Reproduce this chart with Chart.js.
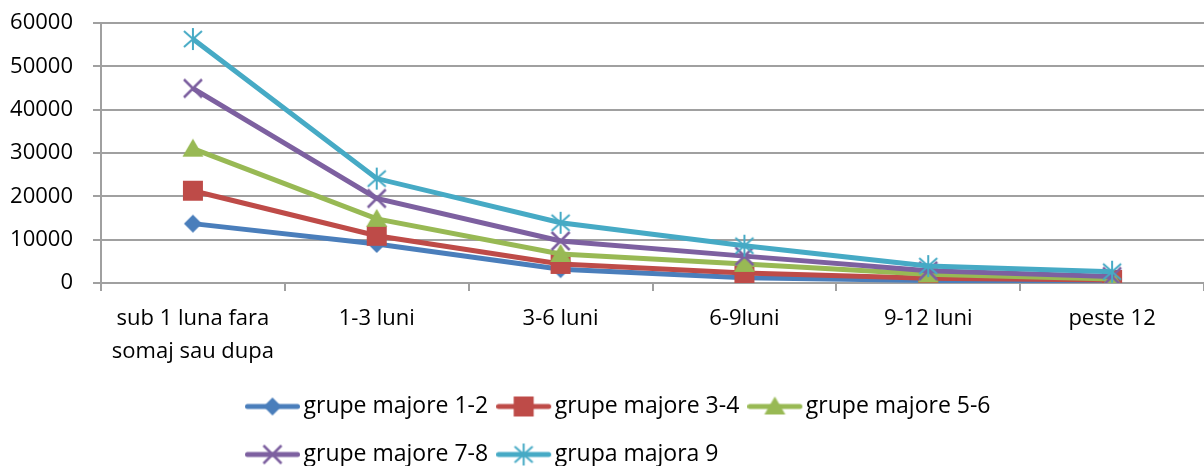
<!DOCTYPE html>
<html>
<head>
<meta charset="utf-8">
<script src="https://cdn.jsdelivr.net/npm/chart.js@4.4.1/dist/chart.umd.min.js"></script>
<style>
  html, body { margin: 0; padding: 0; background: #fff; }
</style>
</head>
<body>
<canvas id="chart" width="1204" height="466"></canvas>
<script>
const categories = [['sub 1 luna fara', 'somaj sau dupa'], '1-3 luni', '3-6 luni', '6-9luni', '9-12 luni', 'peste 12'];
const seriesNames = ['grupe majore 1-2', 'grupe majore 3-4', 'grupe majore 5-6', 'grupe majore 7-8', 'grupa majora 9'];
const grupe12 = [13700, 9000, 3200, 1200, 600, 300];
const grupe34 = [21300, 10900, 4400, 2300, 1100, 700];
const grupe56 = [31000, 14800, 6700, 4400, 2000, 900];
const grupe78 = [44900, 19500, 9700, 6200, 2800, 1500];
const grupa9 = [56300, 24100, 13900, 8600, 3900, 2600];
const yMax = 60000;
const yStep = 10000;

const colors = ['#4a7ebb', '#be4b48', '#98b954', '#7d60a0', '#46aac5'];
const kinds = ['diamond', 'square', 'triangle', 'x', 'asterisk'];
const values = [grupe12, grupe34, grupe56, grupe78, grupa9];

// marker drawn once into a small canvas, used for points and legend
function marker(kind, color) {
  const c = document.createElement('canvas');
  c.width = 26; c.height = 26;
  const g = c.getContext('2d');
  const m = 13;
  g.fillStyle = color;
  g.strokeStyle = color;
  g.beginPath();
  if (kind === 'diamond') {
    g.moveTo(m, m - 9); g.lineTo(m + 9, m); g.lineTo(m, m + 9); g.lineTo(m - 9, m);
    g.closePath(); g.fill();
  } else if (kind === 'square') {
    g.fillRect(m - 10, m - 10, 20, 20);
  } else if (kind === 'triangle') {
    g.moveTo(m, m - 10); g.lineTo(m + 10.5, m + 8); g.lineTo(m - 10.5, m + 8);
    g.closePath(); g.fill();
  } else if (kind === 'x') {
    g.lineWidth = 2.5;
    g.moveTo(m - 9, m - 9); g.lineTo(m + 9, m + 9);
    g.moveTo(m + 9, m - 9); g.lineTo(m - 9, m + 9);
    g.stroke();
  } else {
    g.lineWidth = 2;
    g.moveTo(m - 9, m - 8); g.lineTo(m + 9, m + 8);
    g.moveTo(m + 9, m - 8); g.lineTo(m - 9, m + 8);
    g.moveTo(m, m - 11); g.lineTo(m, m + 11);
    g.stroke();
  }
  return c;
}

function legendSample(mk, color) {
  const c = document.createElement('canvas');
  c.width = 64; c.height = 26;
  const g = c.getContext('2d');
  g.strokeStyle = color;
  g.lineWidth = 5;
  g.lineCap = 'round';
  g.beginPath(); g.moveTo(2.5, 13); g.lineTo(52.5, 13); g.stroke();
  g.drawImage(mk, 27.5 - mk.width / 2, 13 - mk.height / 2);
  return c;
}

const markers = kinds.map((k, i) => marker(k, colors[i]));
const samples = markers.map((mk, i) => legendSample(mk, colors[i]));

Chart.defaults.font.family = "'Open Sans', sans-serif";
Chart.defaults.font.size = 22;
Chart.defaults.color = '#000';

// excel style legend: left aligned rows under the plot
const legendPlace = {
  id: 'legendPlace',
  afterLayout(chart) {
    chart.legend.left = 237;
    chart.legend.top = 370;
  }
};

// labels may hang past the plot edges, like in excel
const noScalePad = scale => {
  scale.paddingLeft = 0;
  scale.paddingRight = 0;
  scale.paddingTop = 0;
  scale.paddingBottom = 0;
};

new Chart(document.getElementById('chart'), {
  type: 'line',
  data: {
    labels: categories,
    datasets: seriesNames.map((name, i) => ({
      label: name,
      data: values[i],
      borderColor: colors[i],
      backgroundColor: colors[i],
      borderWidth: 5,
      tension: 0,
      pointStyle: markers[i],
      order: 5 - i
    }))
  },
  options: {
    responsive: false,
    animation: false,
    devicePixelRatio: 1,
    layout: { autoPadding: false, padding: { left: 10, top: 23, right: 0, bottom: -19 } },
    scales: {
      x: {
        offset: true,
        afterFit: noScalePad,
        grid: { offset: true, drawOnChartArea: false, tickLength: 8, color: '#a0a0a0', lineWidth: 2 },
        border: { color: '#a0a0a0', width: 2 },
        ticks: { padding: 11, maxRotation: 0, autoSkip: false, font: { lineHeight: 1.5 } }
      },
      y: {
        min: 0,
        max: yMax,
        afterFit: scale => { noScalePad(scale); scale.width = 91; },
        ticks: { stepSize: yStep, padding: 20, callback: v => String(v) },
        grid: { color: '#a0a0a0', lineWidth: 2, tickLength: 8 },
        border: { color: '#a0a0a0', width: 2 }
      }
    },
    plugins: {
      legend: {
        position: 'bottom',
        align: 'start',
        labels: {
          usePointStyle: true,
          pointStyleWidth: 30,
          padding: 25,
          color: '#000',
          font: { size: 23 },
          generateLabels: chart => chart.data.datasets.map((ds, i) => ({
            text: ds.label,
            pointStyle: samples[i],
            fillStyle: ds.borderColor,
            strokeStyle: ds.borderColor,
            lineWidth: 0,
            hidden: false,
            datasetIndex: i
          }))
        }
      },
      tooltip: { enabled: false }
    }
  },
  plugins: [legendPlace]
});
</script>
</body>
</html>
